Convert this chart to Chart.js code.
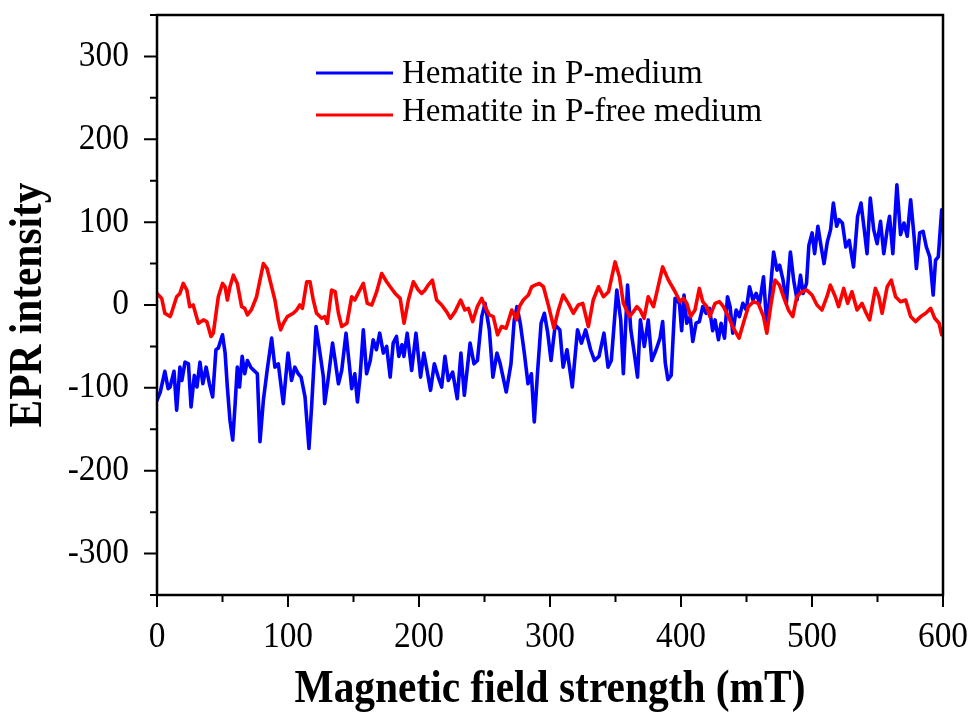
<!DOCTYPE html>
<html><head><meta charset="utf-8">
<script src="https://cdn.jsdelivr.net/npm/chart.js@4.4.1/dist/chart.umd.min.js"></script>
<style>html,body{margin:0;padding:0;background:#fff;}#wrap{width:976px;height:715px;}</style>
</head><body><div id="wrap"><canvas id="c" width="976" height="715"></canvas></div>
<script>
// ---- data ----
const seriesLabels = ['Hematite in P-medium', 'Hematite in P-free medium'];
const fieldBlue = [0,2.5,6,8.5,10,13,15,17.5,19,21.4,24,26,28.5,30.5,32.8,35,37.5,40,42.5,45,46.8,50,52,53.7,55.7,57.8,59.5,61.3,63,65,67,69,71.5,74,76.6,78.6,81.2,84,87.5,90,92.6,96.4,100,102.7,105.2,107.8,110,113,116,118,121.4,124.4,127,128,130.5,134,136,138.5,141,144.3,147,148.6,151,153,155,157.5,160,162.8,165,167.5,170,172.8,175.3,178,180.3,182.8,184.6,187,188.5,191,194.4,197.7,201.2,203.7,205.7,208.8,211.7,214.7,217.3,219.8,222.4,225.7,229.2,232,234.6,239,242,244.6,247.9,250.4,253.7,256.4,259.5,262,266.6,270.2,272.7,274.8,277.3,280.4,283.2,285.8,288,290.6,293.2,295.7,298.3,300.8,304,307.5,310,313,317,321,324,327.2,331,334,337.4,341.2,344.3,346.8,351,354,356,359.2,361.7,364.3,366.8,369,372,375,377.7,381,384,386,388,390,392.5,395.5,398.8,400.5,402.3,404.4,407,409,411.5,414,416.6,419.1,421.7,424.2,426,428.6,430.6,433.2,435.5,437.5,439.5,442.1,444.6,447.2,449.8,452.3,454.9,457.4,460,463,465.6,468.2,470.7,473.3,475.3,477.9,480.4,483.5,486,488.6,491.2,493.2,495.8,497.6,500.1,502,504.5,507,509.2,511.7,514.2,516.3,518.8,520.6,523.2,525.8,528.4,531.7,534.8,537.4,539.9,542,544.5,547.1,549.7,552.3,554.8,557.4,559.2,561.7,564.8,567.6,570.2,572.7,575.3,577.9,579.7,582.2,584.8,587.3,589.9,592.5,594.3,596.4,599,600];
const intensityBlue = [-115,-105,-80,-101,-99,-80,-127,-75,-91,-69,-71,-123,-85,-99,-69,-95,-75,-95,-111,-54,-52,-36,-58,-99,-139,-163,-123,-75,-99,-62,-83,-67,-75,-79,-83,-165,-115,-80,-40,-75,-71,-119,-58,-91,-75,-83,-87,-111,-173,-123,-26,-58,-87,-119,-91,-46,-67,-95,-79,-34,-75,-101,-83,-117,-87,-30,-83,-67,-42,-54,-34,-58,-50,-87,-46,-38,-62,-48,-62,-34,-79,-34,-87,-58,-75,-103,-71,-87,-99,-62,-91,-81,-113,-58,-109,-46,-71,-67,-14,2,-30,-87,-58,-71,-105,-71,-18,-2,-22,-58,-95,-83,-141,-79,-22,-10,-34,-67,-24,-30,-75,-54,-99,-30,-46,-30,-54,-67,-62,-34,-75,-67,18,-18,-83,24,-30,-58,-87,-18,-50,-18,-67,-54,-40,-20,-70,-90,-85,8,2,-31,12,-22,-14,-44,-22,-20,-2,-10,-4,-31,-18,-42,-22,-40,10,-2,-34,-6,-14,2,-6,22,6,14,2,34,-27,18,64,42,48,30,2,64,30,6,36,14,26,72,87,62,95,70,50,76,91,123,95,103,99,70,78,46,107,123,91,62,129,91,74,101,62,91,107,62,145,85,99,83,127,83,44,87,89,70,58,12,54,58,115,111];
const fieldRed = [0,3.6,6,10,11,15,17.5,20,22.8,25,27.6,31.6,35.4,38,41.2,43,46.8,50,52,53.7,55.7,58.3,61.3,64.6,67,69,72,76,81.2,84,87.5,90,92.6,94.4,96.5,99.5,104,106.6,109,111,114.3,116.8,119.3,121.8,125.7,128,130,133.3,136,138.5,141,145,148.6,151,153.5,157.5,160.5,164,167.7,171.5,175.3,178,181.8,185.6,188.6,191.9,195.7,199.5,202,204.6,207,210.2,213.5,217.3,221,224,227.5,231.8,235,237.7,241,244.5,247.9,250.4,253.7,256.7,260,263,266.5,270.8,274.5,276.6,279.6,283.5,286,288.6,291.8,295,298.7,303,306.4,310,314,317.8,321.6,325,329.3,333,337,340.8,344.7,349.7,353,356,360.7,363.7,366.3,368.8,371.8,375,379,382.8,386,390.4,395.5,399.3,401.8,404.4,407.4,410.7,414,416.6,419.7,422,426,429.3,432.4,436.2,440,444.3,447.6,451.4,455.3,459,463,465.5,468.8,471.8,475.2,478.7,482,485.3,488.4,492.2,496,500,503.8,507.6,511.4,514,517.8,520.3,524.2,527.2,530.5,534.4,538.2,540.8,544,548.4,551,553.5,557.4,560.5,563.8,567.6,571.5,575.3,579,583,586.8,590.6,593.7,597,599,600];
const intensityRed = [14,8,-10,-14,-10,10,14,26,18,-2,0,-22,-18,-20,-38,-34,10,26,22,6,22,36,26,-2,-4,-12,-6,10,50,44,22,6,-18,-30,-22,-14,-10,-6,0,-4,28,28,6,-10,-16,-14,-22,18,16,-10,-26,-22,10,6,14,26,2,0,16,38,28,22,14,8,-22,6,28,18,14,18,24,30,6,0,-8,-16,-8,6,-6,-4,-20,-2,8,-2,-12,-14,-36,-26,-28,-6,-18,-2,6,12,22,24,26,22,0,-28,-6,12,2,-10,0,2,-26,6,22,10,16,52,34,2,-14,-8,-2,-6,-16,10,-2,24,46,30,16,4,8,2,-14,-6,20,4,-2,-14,2,4,-2,-14,-28,-40,-22,-2,4,2,-14,-34,2,30,24,8,-6,-14,10,16,18,12,0,-6,10,24,10,-2,20,2,16,-6,2,-8,-18,20,10,-10,22,30,10,4,6,-14,-20,-14,-10,-4,-16,-22,-36,-32];
const xMajorTicks = [0,100,200,300,400,500,600];
const xMinorTicks = [50,150,250,350,450,550];
const yMajorTicks = [-300,-200,-100,0,100,200,300];
const yMinorTicks = [-350,-250,-150,-50,50,150,250,350];
const xTitle = 'Magnetic field strength (mT)';
const yTitle = 'EPR intensity';

const FONT = "'Liberation Serif', 'Times New Roman', serif";

// condensed text rendering (the reference uses a narrow serif face)
const canvas = document.getElementById('c');
const ctx = canvas.getContext('2d');
const origFill = ctx.fillText.bind(ctx);
ctx.fillText = function(text, x, y, maxWidth) {
  const f = ctx.font;
  let sx = 1;
  if (f.indexOf('bold') >= 0) sx = 0.9;
  else if (f.indexOf('36px') >= 0) sx = 0.93;
  if (sx === 1) { return maxWidth === undefined ? origFill(text, x, y) : origFill(text, x, y, maxWidth); }
  ctx.save();
  ctx.translate(x, y);
  ctx.scale(sx, 1);
  if (maxWidth === undefined) origFill(text, 0, 0); else origFill(text, 0, 0, maxWidth / sx);
  ctx.restore();
};

function pts(xs, ys) { return xs.map((v, i) => ({x: v, y: ys[i]})); }

const framePlugin = {
  id: 'frame',
  afterDatasetsDraw(chart) {
    const c = chart.ctx, a = chart.chartArea, xs = chart.scales.x, ys = chart.scales.y;
    c.save();
    c.strokeStyle = '#000';
    c.lineWidth = 2.5;
    c.strokeRect(a.left, a.top, a.right - a.left, a.bottom - a.top);
    c.lineWidth = 2;
    c.beginPath();
    xMajorTicks.forEach(v => { const p = xs.getPixelForValue(v); c.moveTo(p, a.bottom); c.lineTo(p, a.bottom + 12); });
    xMinorTicks.forEach(v => { const p = xs.getPixelForValue(v); c.moveTo(p, a.bottom); c.lineTo(p, a.bottom + 7); });
    yMajorTicks.forEach(v => { const p = ys.getPixelForValue(v); c.moveTo(a.left, p); c.lineTo(a.left - 13, p); });
    yMinorTicks.forEach(v => { const p = ys.getPixelForValue(v); c.moveTo(a.left, p); c.lineTo(a.left - 7, p); });
    c.stroke();
    c.restore();
  }
};

const legendPlugin = {
  id: 'innerLegend',
  afterDraw(chart) {
    const c = chart.ctx;
    const lineRows = [73, 115];
    const textRows = [74, 112];
    c.save();
    c.font = '33px ' + FONT;
    c.textAlign = 'left';
    c.textBaseline = 'middle';
    c.fillStyle = '#000';
    chart.data.datasets.forEach((ds, i) => {
      c.strokeStyle = ds.borderColor;
      c.lineWidth = 3;
      c.beginPath(); c.moveTo(316, lineRows[i]); c.lineTo(393, lineRows[i]); c.stroke();
      c.fillText(ds.label, 402, textRows[i]);
    });
    c.restore();
  }
};

new Chart(ctx, {
  type: 'line',
  data: {
    datasets: [
      { label: seriesLabels[0], data: pts(fieldBlue, intensityBlue), borderColor: '#0000ff', borderWidth: 3.6, borderJoinStyle: 'round', borderCapStyle: 'round', pointRadius: 0, tension: 0, order: 1 },
      { label: seriesLabels[1], data: pts(fieldRed, intensityRed), borderColor: '#ff0000', borderWidth: 3.6, borderJoinStyle: 'round', borderCapStyle: 'round', pointRadius: 0, tension: 0, order: 0 }
    ]
  },
  options: {
    responsive: false,
    animation: false,
    devicePixelRatio: 1,
    layout: { padding: { left: 0, right: 33, top: 15, bottom: 0 } },
    plugins: { legend: { display: false }, tooltip: { enabled: false } },
    scales: {
      x: {
        type: 'linear', position: 'bottom', min: 0, max: 600,
        afterBuildTicks: s => { s.ticks = xMajorTicks.map(v => ({ value: v })); },
        afterFit: s => { s.height = 120; s.paddingLeft = 0; s.paddingRight = 0; },
        grid: { display: false }, border: { display: false },
        ticks: { autoSkip: false, maxRotation: 0, padding: 13, color: '#000', font: { family: FONT, size: 36 } },
        title: { display: true, text: xTitle, color: '#000', font: { family: FONT, size: 46, weight: 'bold', lineHeight: 1 }, padding: { top: 0, bottom: 2 } }
      },
      y: {
        type: 'linear', position: 'left', min: -350, max: 350,
        afterBuildTicks: s => { s.ticks = yMajorTicks.map(v => ({ value: v })); },
        afterFit: s => { s.width = 157; s.paddingTop = 0; s.paddingBottom = 0; },
        grid: { display: false }, border: { display: false },
        ticks: { autoSkip: false, padding: 20, color: '#000', font: { family: FONT, size: 36 } },
        title: { display: true, text: yTitle, color: '#000', font: { family: FONT, size: 46, weight: 'bold', lineHeight: 1 }, padding: { top: 6.5, bottom: 0 } }
      }
    }
  },
  plugins: [framePlugin, legendPlugin]
});
</script>
</body></html>
